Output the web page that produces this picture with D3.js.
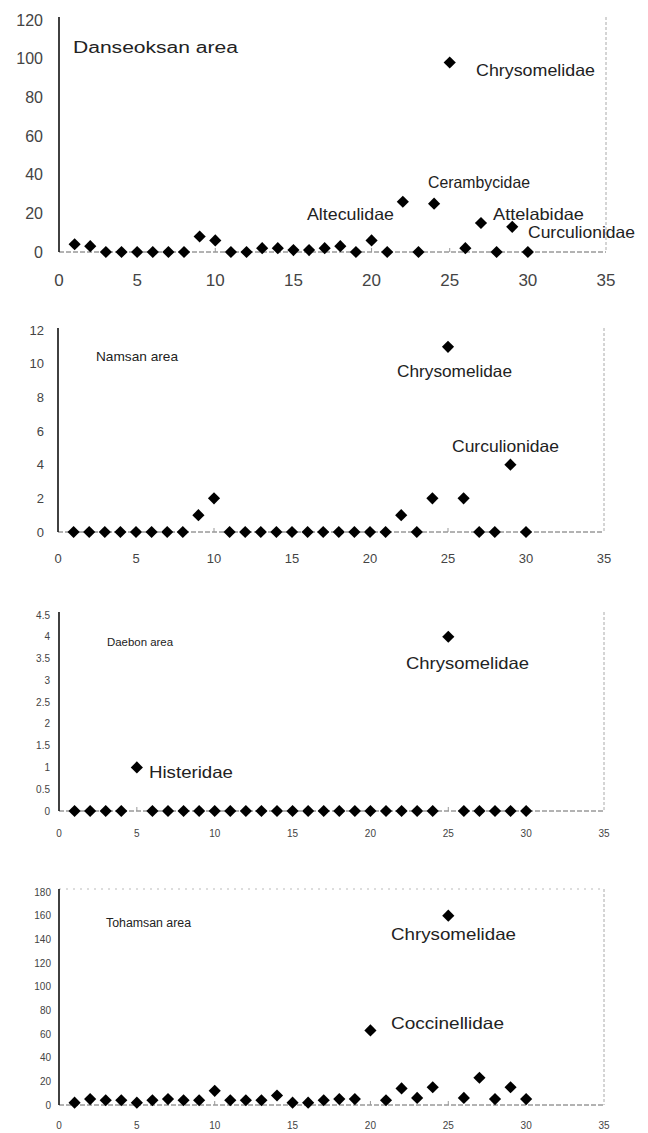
<!DOCTYPE html>
<html><head><meta charset="utf-8">
<script src="https://cdn.jsdelivr.net/npm/d3@7"></script>
<style>
html,body{margin:0;padding:0;background:#fff;}
svg{display:block;}
text{font-family:"Liberation Sans",Arial,sans-serif;}
</style></head>
<body>
<svg id="chart" width="648" height="1133"></svg>
<script>
// ---- data ----
const sites = [1,2,3,4,5,6,7,8,9,10,11,12,13,14,15,16,17,18,19,20,21,22,23,24,25,26,27,28,29,30];
const danseoksan = [4,3,0,0,0,0,0,0,8,6,0,0,2,2,1,1,2,3,0,6,0,26,0,25,98,2,15,0,13,0];
const namsan     = [0,0,0,0,0,0,0,0,1,2,0,0,0,0,0,0,0,0,0,0,0,1,0,2,11,2,0,0,4,0];
const daebon     = [0,0,0,0,1,0,0,0,0,0,0,0,0,0,0,0,0,0,0,0,0,0,0,0,4,0,0,0,0,0];
const tohamsan   = [2,5,4,4,2,4,5,4,4,12,4,4,4,8,2,2,4,5,5,63,4,14,6,15,160,6,23,5,15,5];
const xTicks = [0,5,10,15,20,25,30,35];
const yTicks1 = [0,20,40,60,80,100,120];
const yTicks2 = [0,2,4,6,8,10,12];
const yTicks3 = [0,0.5,1,1.5,2,2.5,3,3.5,4,4.5];
const yTicks4 = [0,20,40,60,80,100,120,140,160,180];
const areaNames = ["Danseoksan area","Namsan area","Daebon area","Tohamsan area"];
const labels1 = ["Chrysomelidae","Cerambycidae","Alteculidae","Attelabidae","Curculionidae"];
const labels2 = ["Chrysomelidae","Curculionidae"];
const labels3 = ["Histeridae","Chrysomelidae"];
const labels4 = ["Chrysomelidae","Coccinellidae"];

// ---- layout ----
const panels = [
  {values: danseoksan, yTicks: yTicks1, x0:59, x1:606, yZero:252, yTop:20, axTop:17,
   yFont:16, xFont:17, yLabX:43, xLabY:286, name:{x:73,y:53,s:16,w:165},
   labels: labels1, pos:[[476,76,119],[428,188,102],[307,220,87],[493,220,91],[528,238,107]], topLine:false},
  {values: namsan, yTicks: yTicks2, x0:58, x1:604, yZero:532, yTop:330, axTop:328,
   yFont:13, xFont:13, yLabX:44, xLabY:563, name:{x:96,y:361,s:13,w:82},
   labels: labels2, pos:[[397,377,115],[452,452,107]], topLine:false},
  {values: daebon, yTicks: yTicks3, x0:59, x1:604, yZero:811, yTop:615, axTop:612,
   yFont:10, xFont:10, yLabX:50, xLabY:837, name:{x:107,y:646,s:11,w:66},
   labels: labels3, pos:[[149,778,84],[406,669,123]], topLine:false},
  {values: tohamsan, yTicks: yTicks4, x0:59, x1:604, yZero:1105, yTop:892, axTop:889,
   yFont:10, xFont:10, yLabX:51, xLabY:1129, name:{x:106,y:927,s:12,w:85},
   labels: labels4, pos:[[391,940,125],[391,1029,113]], topLine:true}
];

const svg = d3.select("#chart");

panels.forEach((p, i) => {
  const yMax = p.yTicks[p.yTicks.length-1];
  const x = d3.scaleLinear().domain([0,35]).range([p.x0, p.x1]);
  const y = d3.scaleLinear().domain([0,yMax]).range([p.yZero, p.yTop]);
  const g = svg.append("g");

  if (p.topLine) {
    g.append("line").attr("x1", x(0)).attr("x2", x(35)).attr("y1", p.axTop).attr("y2", p.axTop)
      .attr("stroke","#bbb").attr("stroke-width",1).attr("stroke-dasharray","2,5");
  }
  g.append("line").attr("x1", x(35)).attr("x2", x(35)).attr("y1", p.axTop).attr("y2", y(0))
    .attr("stroke","#aaa").attr("stroke-width",1).attr("stroke-dasharray","3,2");
  g.append("line").attr("x1", x(0)).attr("x2", x(35)).attr("y1", y(0)).attr("y2", y(0))
    .attr("stroke","#666").attr("stroke-width",1).attr("stroke-dasharray","5,2");
  g.selectAll(".xt").data(xTicks.slice(1,-1)).join("line")
    .attr("x1", d=>x(d)).attr("x2", d=>x(d)).attr("y1", y(0)).attr("y2", y(0)-4)
    .attr("stroke","#999").attr("stroke-width",1);
  g.append("line").attr("x1", x(0)).attr("x2", x(0)).attr("y1", p.axTop).attr("y2", y(0))
    .attr("stroke","#111").attr("stroke-width",1.6);

  g.selectAll(".yl").data(p.yTicks).join("text")
    .attr("x", p.yLabX).attr("y", d=>y(d)).attr("dy","0.36em")
    .attr("text-anchor","end").attr("font-size", p.yFont).attr("fill","#444")
    .text(d=>d);
  g.selectAll(".xl").data(xTicks).join("text")
    .attr("x", d=>x(d)).attr("y", p.xLabY)
    .attr("text-anchor","middle").attr("font-size", p.xFont).attr("fill","#444")
    .text(d=>d);

  const sq = d3.symbol().type(d3.symbolSquare).size(74);
  g.selectAll(".pt").data(sites.map((s,k)=>({s, v:p.values[k]}))).join("path")
    .attr("d", sq)
    .attr("transform", d=>`translate(${x(d.s)},${y(d.v)}) rotate(45)`)
    .attr("fill","#000");

  g.append("text").attr("x", p.name.x).attr("y", p.name.y)
    .attr("font-size", p.name.s).attr("fill","#222")
    .attr("textLength", p.name.w).attr("lengthAdjust","spacingAndGlyphs")
    .text(areaNames[i]);
  p.labels.forEach((t, k) => {
    const [lx, ly, lw] = p.pos[k];
    g.append("text").attr("x", lx).attr("y", ly)
      .attr("font-size", 16.5).attr("fill","#222")
      .attr("textLength", lw).attr("lengthAdjust","spacingAndGlyphs")
      .text(t);
  });
});
</script>
</body></html>
